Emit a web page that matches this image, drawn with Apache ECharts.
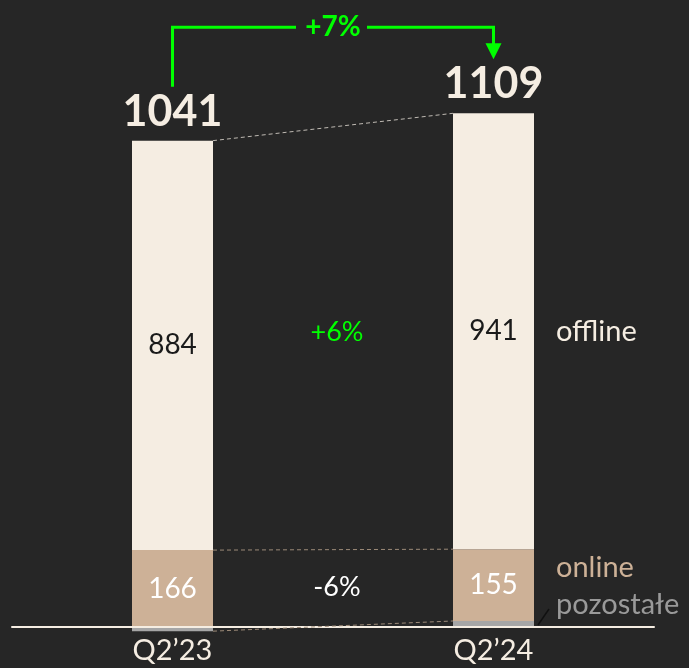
<!DOCTYPE html>
<html>
<head>
<meta charset="utf-8" />
<title></title>
<script src="https://cdn.jsdelivr.net/npm/echarts@6/dist/echarts.min.js"></script>
<style>
  html, body { margin: 0; padding: 0; background: #262626; }
</style>
</head>
<body>
<div id="chart" style="width: 689px; height: 668px;"></div>
<script>
// dane
var categories = ['Q2’23', 'Q2’24'];
var offline = [884, 941];
var online = [166, 155];
var other = [-9, 13];
var totals = [1041, 1109];
var totalChange = '+7%';
var offlineChange = '+6%';
var onlineChange = '-6%';
var names = ['offline', 'online', 'pozostałe'];

var cream = '#F5EDE2';
var tan = '#CDB197';
var grey = '#A6A6A6';
var green = '#00FF00';
var font = 'Lato';
var halfBar = 40.5;

function stackTop(i) {
    return Math.max(other[i], 0) + online[i] + offline[i];
}
function onlineTop(i) {
    return Math.max(other[i], 0) + online[i];
}

var myChart = echarts.init(document.getElementById('chart'));

var option = {
    backgroundColor: '#262626',
    animation: false,
    grid: { left: 12, right: 35, top: 48, bottom: 41, outerBoundsMode: 'none', containLabel: false },
    xAxis: {
        type: 'category',
        data: categories,
        z: 5,
        axisLine: { lineStyle: { color: cream, width: 2 } },
        axisTick: { show: false },
        axisLabel: { color: cream, fontFamily: font, fontSize: 29, margin: 9 }
    },
    yAxis: {
        type: 'value',
        min: 0,
        max: 1250,
        show: false,
        splitLine: { show: false }
    },
    series: [
        {
            name: names[2],
            type: 'bar',
            stack: 'all',
            barWidth: 81,
            clip: false,
            itemStyle: { color: grey },
            data: other
        },
        {
            name: names[1],
            type: 'bar',
            stack: 'all',
            barWidth: 81,
            clip: false,
            itemStyle: { color: tan },
            label: { show: true, position: 'inside', color: '#FFFFFF', fontFamily: font, fontSize: 28 },
            data: online
        },
        {
            name: names[0],
            type: 'bar',
            stack: 'all',
            barWidth: 81,
            clip: false,
            itemStyle: { color: cream },
            label: { show: true, position: 'inside', color: '#1A1A1A', fontFamily: font, fontSize: 28 },
            data: offline
        },
        {
            // linie, strzałka i opisy
            type: 'custom',
            z: 10,
            silent: true,
            clip: false,
            data: [[0, 0]],
            renderItem: function (params, api) {
                var c0 = api.coord([0, 0])[0];
                var c1 = api.coord([1, 0])[0];
                var xa = c0 + halfBar;
                var xb = c1 - halfBar;
                var y = function (v) { return api.coord([0, v])[1]; };
                var mid = (c0 + c1) / 2;
                var children = [];

                function dash(v0, v1, color) {
                    children.push({
                        type: 'line',
                        shape: { x1: xa, y1: y(v0), x2: xb, y2: y(v1) },
                        style: { stroke: color, lineWidth: 1, lineDash: [4, 3] }
                    });
                }
                dash(stackTop(0), stackTop(1), '#BFBAB3');
                dash(onlineTop(0), onlineTop(1), '#9C8A78');
                dash(other[0], other[1], '#9C8A78');

                // sumy
                var ty0 = y(stackTop(0)) - 29;
                var ty1 = y(stackTop(1)) - 29;
                [ty0, ty1].forEach(function (ty, i) {
                    children.push({
                        type: 'text',
                        style: {
                            text: String(totals[i]), x: i === 0 ? c0 : c1, y: ty,
                            fill: cream, font: 'bold 43px ' + font,
                            align: 'center', verticalAlign: 'middle'
                        }
                    });
                });

                // strzałka +7%
                var ay = ty1 - 57;
                var tx = mid;
                children.push({
                    type: 'polyline',
                    shape: { points: [[c0, ty0 - 25], [c0, ay], [tx - 37, ay]] },
                    style: { stroke: green, lineWidth: 3, fill: null }
                });
                children.push({
                    type: 'polyline',
                    shape: { points: [[tx + 34, ay], [c1, ay], [c1, ty1 - 40]] },
                    style: { stroke: green, lineWidth: 3, fill: null }
                });
                children.push({
                    type: 'polygon',
                    shape: { points: [[c1 - 8, ty1 - 41], [c1 + 8, ty1 - 41], [c1, ty1 - 25]] },
                    style: { fill: green }
                });
                children.push({
                    type: 'text',
                    style: {
                        text: totalChange, x: tx, y: ay,
                        fill: green, font: 'bold 28px ' + font,
                        align: 'center', verticalAlign: 'middle'
                    }
                });

                // zmiany segmentów
                var offMid = (y(onlineTop(0) + offline[0] / 2) + y(onlineTop(1) + offline[1] / 2)) / 2;
                var onMid = (y(onlineTop(0) - online[0] / 2) + y(onlineTop(1) - online[1] / 2)) / 2;
                children.push({
                    type: 'text',
                    style: {
                        text: offlineChange, x: mid + 4, y: offMid - 6,
                        fill: green, font: '27px ' + font,
                        align: 'center', verticalAlign: 'middle'
                    }
                });
                children.push({
                    type: 'text',
                    style: {
                        text: onlineChange, x: mid + 4, y: onMid,
                        fill: '#FFFFFF', font: '27px ' + font,
                        align: 'center', verticalAlign: 'middle'
                    }
                });

                // opisy serii po prawej
                var lx = c1 + halfBar + 22;
                children.push({
                    type: 'text',
                    style: {
                        text: names[0], x: lx, y: y(onlineTop(1) + offline[1] / 2),
                        fill: cream, font: '29px ' + font, align: 'left', verticalAlign: 'middle'
                    }
                });
                children.push({
                    type: 'text',
                    style: {
                        text: names[1], x: lx, y: y(onlineTop(1) - online[1] / 2) - 17,
                        fill: tan, font: '29px ' + font, align: 'left', verticalAlign: 'middle'
                    }
                });
                children.push({
                    type: 'text',
                    style: {
                        text: names[2], x: lx, y: y(other[1] / 2) - 19,
                        fill: '#9A9A9A', font: '29px ' + font, align: 'left', verticalAlign: 'middle'
                    }
                });
                children.push({
                    type: 'line',
                    shape: { x1: c1 + halfBar + 4, y1: y(0) - 2, x2: c1 + halfBar + 15, y2: y(0) - 18 },
                    style: { stroke: '#111111', lineWidth: 1.5 }
                });

                return { type: 'group', children: children };
            }
        }
    ]
};

myChart.setOption(option);
</script>
</body>
</html>
